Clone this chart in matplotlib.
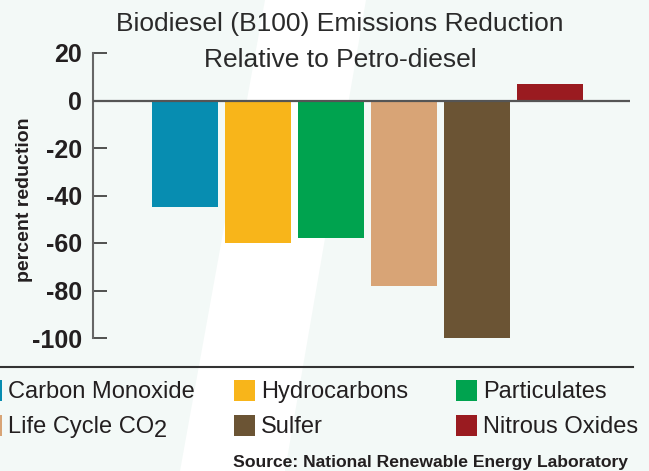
import matplotlib
matplotlib.use("Agg")
import matplotlib.pyplot as plt
from matplotlib.patches import Rectangle, Polygon
import numpy as np

plt.rcParams["axes.unicode_minus"] = False

categories = ["Carbon Monoxide", "Hydrocarbons", "Particulates",
              "Life Cycle CO2", "Sulfer", "Nitrous Oxides"]
values = [-45, -60, -58, -78, -100, 7]
colors = ["#078db1", "#f8b51a", "#00a34f", "#d8a476", "#6b5434", "#9a1b20"]
yticks = [20, 0, -20, -40, -60, -80, -100]

sans = "Liberation Sans"
ink = "#231f20"

W, H = 649, 471
fig = plt.figure(figsize=(W / 100, H / 100), dpi=100)
fig.patch.set_facecolor("#f3f9f7")

# light diagonal stripe behind everything
fig.patches.append(Polygon([(265 / W, 1), (366 / W, 1), (285 / W, 0), (180 / W, 0)],
                           closed=True, transform=fig.transFigure,
                           facecolor="white", edgecolor="none", zorder=-5))

ax = fig.add_axes([93 / W, 1 - 338 / H, (630 - 93) / W, (338 - 53) / H])
ax.set_facecolor("none")

x = np.arange(len(values))
ax.bar(x, values, width=0.9, color=colors, zorder=2)
ax.axhline(0, color="#555555", lw=1.6, zorder=3)

ax.set_xlim(-92 / 73, -92 / 73 + 537 / 73)
ax.set_ylim(-100, 20)
ax.set_yticks(yticks)
ax.set_xticks([])
for s in ["top", "right", "bottom"]:
    ax.spines[s].set_visible(False)
ax.spines["left"].set_color("#666666")
ax.spines["left"].set_linewidth(1.5)
ax.tick_params(axis="y", direction="in", length=10, width=1.2, color="#333333", pad=8)
for lab in ax.get_yticklabels():
    lab.set_fontfamily(sans)
    lab.set_fontweight("bold")
    lab.set_fontsize(18)
    lab.set_color(ink)

fig.text(25 / W, 1 - 200 / H, "percent reduction", rotation=90, ha="center", va="center",
         family=sans, weight="bold", fontsize=14, color=ink)

fig.text(340 / W, 1 - 24 / H, "Biodiesel (B100) Emissions Reduction", ha="center", va="center",
         family=sans, fontsize=19, color="#2a2a2a")
fig.text(340 / W, 1 - 60 / H, "Relative to Petro-diesel", ha="center", va="center",
         family=sans, fontsize=19, color="#2a2a2a")

# rule above the legend
fig.add_artist(plt.Line2D([0, 633 / W], [1 - 367 / H, 1 - 367 / H], color="#333333", lw=1.5))

# legend, three columns by two rows
col_x = [-19, 234, 456]
row_base = [398, 433]
order = [[0, 1, 2], [3, 4, 5]]
for r, row in enumerate(order):
    for c, i in enumerate(row):
        px = col_x[c]
        by = row_base[r]
        fig.patches.append(Rectangle((px / W, 1 - (by + 3) / H), 21 / W, 21 / H,
                                     transform=fig.transFigure, facecolor=colors[i],
                                     edgecolor="none"))
        label = categories[i]
        if label.endswith("CO2"):
            t = fig.text((px + 27) / W, 1 - by / H, label[:-1], ha="left", va="baseline",
                         family=sans, fontsize=17, color=ink)
            fig.canvas.draw()
            bb = t.get_window_extent()
            fig.text(bb.x1 / W, 1 - (by + 4) / H, "2", ha="left", va="baseline",
                     family=sans, fontsize=17, color=ink)
        else:
            fig.text((px + 27) / W, 1 - by / H, label, ha="left", va="baseline",
                     family=sans, fontsize=17, color=ink)

fig.text(628 / W, 1 - 467 / H, "Source: National Renewable Energy Laboratory", ha="right",
         va="baseline", family=sans, weight="bold", fontsize=12.6, color=ink)

fig.savefig("out.png", dpi=100, facecolor=fig.get_facecolor())
